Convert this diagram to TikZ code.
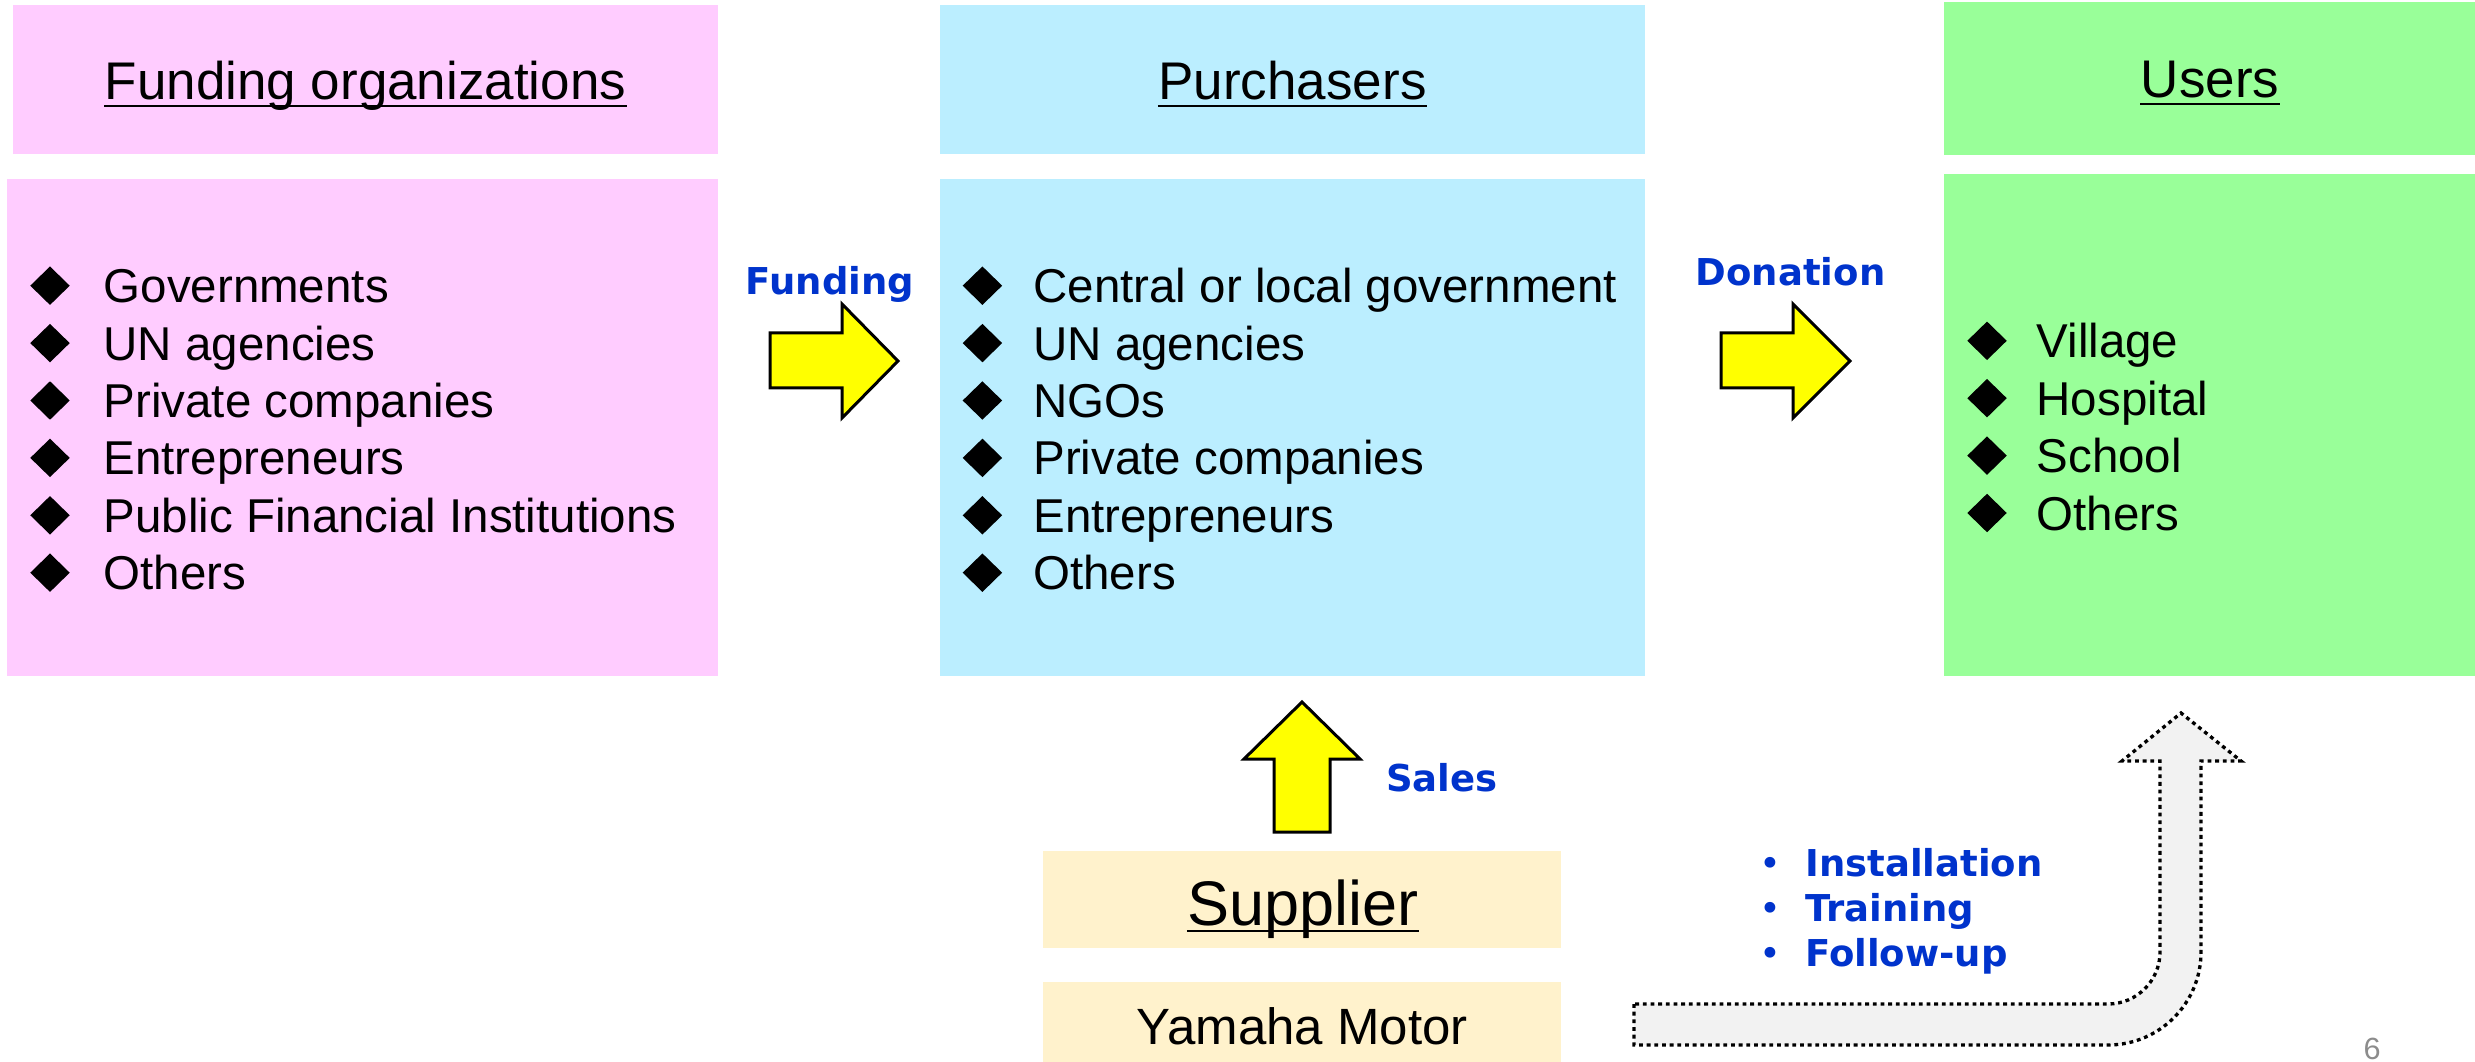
\documentclass[tikz,border=0pt]{standalone}
\usepackage{fontspec}
\setmainfont{Liberation Sans}
\newfontfamily\lblfont{DejaVu Sans}
\usetikzlibrary{fit,shapes.geometric}
\definecolor{pinkc}{HTML}{FFCCFF}
\definecolor{bluec}{HTML}{BBEEFF}
\definecolor{greenc}{HTML}{99FF99}
\definecolor{beigec}{HTML}{FFF2CC}
\definecolor{yellowc}{HTML}{FFFF00}
\definecolor{lblblue}{HTML}{0033CC}
\definecolor{grayfill}{HTML}{F2F2F2}
\definecolor{pagegray}{HTML}{8C8C8C}
\tikzset{
  panel/.style={inner sep=0pt, outer sep=0pt, draw=none},
  hdr/.style={font=\fontsize{15.9}{19}\selectfont, inner sep=0pt, anchor=base},
  itm/.style={font=\fontsize{14.25}{17}\selectfont, inner sep=0pt, anchor=base west},
  dia/.style={diamond, fill=black, inner sep=0pt, minimum width=12pt, minimum height=11.7pt},
  lbl/.style={font=\lblfont\bfseries\fontsize{11.1}{13.5}\selectfont, text=lblblue, inner sep=0pt},
  blk/.style={fill=yellowc, draw=black, line width=0.9pt, line join=miter},
  ulline/.style={line width=0.6pt},
  curvedarrow/.style={fill=grayfill, draw=black, line width=1.0pt, dash pattern=on 1.15pt off 1.15pt}
}
\begin{document}
\begin{tikzpicture}[x=0.3pt,y=-0.3pt]
\useasboundingbox (0,0) rectangle (2475,1062);

% panels
\node[panel, fill=pinkc, fit={(12.8,5) (718,154)}] (fhead) {};
\node[panel, fill=pinkc, fit={(7,179) (718,676)}] (fbody) {};
\node[panel, fill=bluec, fit={(940,5) (1645,154)}] (phead) {};
\node[panel, fill=bluec, fit={(940,179) (1645,676)}] (pbody) {};
\node[panel, fill=greenc, fit={(1944,2) (2475,155)}] (uhead) {};
\node[panel, fill=greenc, fit={(1944,174) (2475,676)}] (ubody) {};
\node[panel, fill=beigec, fit={(1043,851) (1561,948)}] (sbox) {};
\node[panel, fill=beigec, fit={(1043,982) (1561,1062)}] (ybox) {};

% headers
\node[hdr] (ft) at (365.5,100) {Funding organizations};
\draw[ulline] ([yshift=-1.8pt]ft.base west) -- ([yshift=-1.8pt]ft.base east);
\node[hdr] (pt) at (1292.5,100) {Purchasers};
\draw[ulline] ([yshift=-1.8pt]pt.base west) -- ([yshift=-1.8pt]pt.base east);
\node[hdr] (ut) at (2210,98) {Users};
\draw[ulline] ([yshift=-1.8pt]ut.base west) -- ([yshift=-1.8pt]ut.base east);

% funding items
\foreach \t [count=\i] in {Governments,UN agencies,Private companies,Entrepreneurs,Public Financial Institutions,Others} {
  \node[dia] (fd\i) at (50,228.3+57.4*\i) {};
  \node[itm] (fi\i) at (103,245.3+57.4*\i) {\t};
}
% purchaser items
\foreach \t [count=\i] in {Central or local government,UN agencies,NGOs,Private companies,Entrepreneurs,Others} {
  \node[dia] (pd\i) at (982.4,228.3+57.4*\i) {};
  \node[itm] (pi\i) at (1032.7,245.3+57.4*\i) {\t};
}
% user items
\foreach \t [count=\i] in {Village,Hospital,School,Others} {
  \node[dia] (ud\i) at (1987,283.4+57.4*\i) {};
  \node[itm] (ui\i) at (2036,300.4+57.4*\i) {\t};
}

% block arrows
\draw[blk] (770,333) -- (842,333) -- (842,304) -- (898,361) -- (842,418) -- (842,388) -- (770,388) -- cycle;
\draw[blk] (1721,333) -- (1793,333) -- (1793,304) -- (1850,361) -- (1793,418) -- (1793,388) -- (1721,388) -- cycle;
\draw[blk] (1274,832) -- (1274,759) -- (1244,759) -- (1302,702) -- (1360,759) -- (1330,759) -- (1330,832) -- cycle;

% labels
\node[lbl, anchor=base] (lf) at (830,295) {Funding};
\node[lbl, anchor=base] (ld) at (1790.6,285.7) {Donation};
\node[lbl, anchor=base] (ls) at (1442,791.7) {Sales};

% supplier
\node[inner sep=0pt, anchor=base, font=\fontsize{18.9}{22}\selectfont] (st) at (1303,925) {Supplier};
\draw[ulline] ([yshift=-1.7pt]st.base west) -- ([yshift=-1.7pt]st.base east);
\node[inner sep=0pt, anchor=base, font=\fontsize{15.3}{18}\selectfont] (yt) at (1302.3,1044) {Yamaha Motor};

% curved dotted arrow
\draw[curvedarrow] (1634,1004) -- (1634,1045) -- (2108,1045)
  .. controls (2159.4,1045) and (2201,1003.4) .. (2201,952)
  -- (2201,761) -- (2241,761) -- (2181,713) -- (2122,761) -- (2160,761) -- (2160,952)
  .. controls (2160,980.7) and (2136.7,1004) .. (2108,1004) -- cycle;

% service bullets
\foreach \t/\yy [count=\i] in {Installation/876,Training/921.7,Follow-up/966.7} {
  \node[lbl, anchor=base west] (sv\i) at (1759,\yy) {\makebox[13.7pt][l]{\mdseries•}\t};
}

% page number
\node[inner sep=0pt, anchor=base, text=pagegray, font=\fontsize{9.2}{11}\selectfont] (pg) at (2372,1059) {6};
\end{tikzpicture}
\end{document}
